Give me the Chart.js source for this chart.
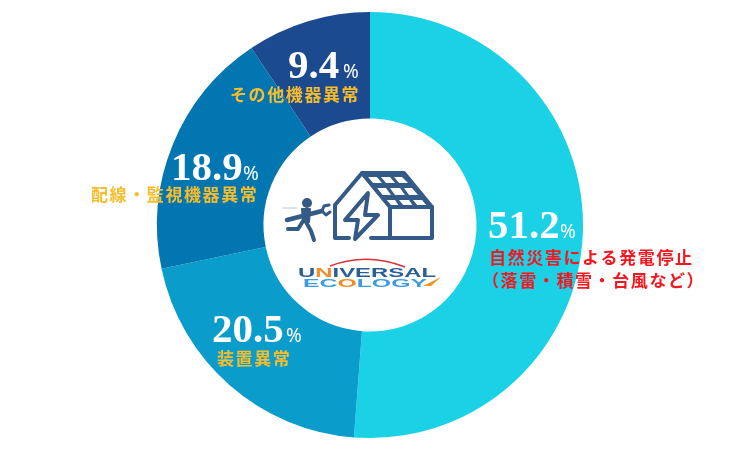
<!DOCTYPE html>
<html>
<head>
<meta charset="utf-8">
<style>
  html, body { margin: 0; padding: 0; background: #ffffff; }
  #wrap { position: relative; width: 740px; height: 450px; overflow: hidden; }
  #pie { position: absolute; left: 0; top: 0; }
  #logo { position: absolute; left: 0; top: 0; pointer-events: none; }
</style>
</head>
<body>
<div id="wrap">
  <canvas id="pie" width="740" height="450"></canvas>
  <svg id="logo" width="740" height="450" viewBox="0 0 740 450">
    <!-- house -->
    <path d="M362 173 L404 173 L432 207 L390 207 Z" fill="#345a87"/>
    <g fill="#ffffff">
      <path d="M368 177 L377 177 L382 183 L373 183 Z"/>
      <path d="M381 177 L390 177 L395 183 L386 183 Z"/>
      <path d="M394 177 L402 177 L408 183 L399 183 Z"/>
      <path d="M377 188 L386 188 L391 195 L382 195 Z"/>
      <path d="M390 188 L400 188 L405 195 L395 195 Z"/>
      <path d="M404 188 L412 188 L418 195 L409 195 Z"/>
      <path d="M386 200 L395 200 L399 206 L391 206 Z"/>
      <path d="M399 200 L409 200 L413 206 L404 206 Z"/>
      <path d="M413 200 L422 200 L427 206 L418 206 Z"/>
    </g>
    <g fill="none" stroke="#345a87" stroke-width="4" stroke-linejoin="round" stroke-linecap="round">
      <path d="M349 238 L335 238 L335 205 L362 173 L404 173 L432 207 L432 238 L371 238"/>
      <path d="M390 207 L432 207 M390 207 L390 238"/>
      <path d="M362 173 L390 207"/>
      <path d="M368 193 L345 220 L358 220 L355 239 L378 215 L365 215 Z"/>
    </g>
    <!-- worker with spanner -->
    <g fill="#345a87" stroke="#345a87" stroke-linecap="round" stroke-linejoin="round">
      <circle cx="307" cy="203" r="5" stroke="none"/>
      <path d="M302 209 L310 209 L309 222 L303 222 Z" stroke-width="2"/>
      <path d="M287 220 L322 211" stroke-width="4.5" fill="none"/>
      <path d="M322 211 L324 206 L329 205 M322 211 L326 215 L330 212" stroke-width="3" fill="none"/>
      <path d="M303 221 L298 229 L288 229" stroke-width="4" fill="none"/>
      <path d="M306 222 L311 231 L314 240" stroke-width="4" fill="none"/>
      <path d="M283 208 L297 208" stroke="#b9c6d4" stroke-width="1" fill="none"/>
    </g>
    <!-- company logo -->
    <path d="M330 266 Q367 252 405 267" fill="none" stroke="#d8323a" stroke-width="1.4"/>
    <path d="M423 286 L441 277 L431 286 Z" fill="#f4922a"/>
    <text x="298" y="277" textLength="138" lengthAdjust="spacingAndGlyphs" font-family="Liberation Sans" font-weight="bold" font-size="12" fill="#2b5d96">U<tspan fill="#f08c28">N</tspan>IVERSAL</text>
    <text x="303" y="287" textLength="124" lengthAdjust="spacingAndGlyphs" font-family="Liberation Sans" font-weight="bold" font-size="11" fill="#3d9be0">EC<tspan fill="#f08c28">O</tspan>LOGY</text>
  </svg>
</div>
<script src="https://cdn.jsdelivr.net/npm/chart.js@4"></script>
<script>
// Values
const categories = ["自然災害による発電停止", "装置異常", "配線・監視機器異常", "その他機器異常"];
const shares = [51.2, 20.5, 18.9, 9.4];
const sliceColors = ["#1bd1e6", "#0a9ccb", "#0276b1", "#1c4a8e"];

// Label placement: number baseline and the caption lines below it
const labelSpots = [
  { x: 488, y: 238, pctX: 560, lines: ["自然災害による発電停止", "（落雷・積雪・台風など）"], lineX: [489, 482], lineY: [264, 287], color: "#f5171f" },
  { x: 212, y: 342, pctX: 286, lines: ["装置異常"], lineX: [217], lineY: [365], color: "#f7bd2c" },
  { x: 171, y: 180, pctX: 243, lines: ["配線・監視機器異常"], lineX: [91], lineY: [201], color: "#f7bd2c" },
  { x: 288, y: 78, pctX: 343, lines: ["その他機器異常"], lineX: [230], lineY: [101], color: "#f7bd2c" }
];

// Draws numbers and captions over the ring
const sliceLabels = {
  id: "sliceLabels",
  afterDatasetsDraw(chart) {
    const ctx = chart.ctx;
    ctx.save();
    ctx.textAlign = "left";
    ctx.textBaseline = "alphabetic";
    labelSpots.forEach((spot, i) => {
      ctx.fillStyle = "#ffffff";
      ctx.letterSpacing = "0px";
      ctx.font = "bold 41px 'Liberation Serif'";
      ctx.fillText(shares[i].toFixed(1), spot.x, spot.y);
      ctx.font = "19px 'Noto Sans'";
      ctx.fillText("%", spot.pctX, spot.y);
      ctx.fillStyle = spot.color;
      ctx.font = "bold 17px 'Noto Sans CJK JP'";
      ctx.letterSpacing = "1.6px";
      spot.lines.forEach((line, j) => ctx.fillText(line, spot.lineX[j], spot.lineY[j]));
    });
    ctx.restore();
  }
};

new Chart(document.getElementById("pie"), {
  type: "doughnut",
  data: {
    labels: categories,
    datasets: [{
      data: shares,
      backgroundColor: sliceColors,
      borderWidth: 0
    }]
  },
  options: {
    responsive: false,
    animation: false,
    cutout: "50%",
    layout: { padding: { top: 12, bottom: 12 } },
    plugins: {
      legend: { display: false },
      tooltip: { enabled: false }
    }
  },
  plugins: [sliceLabels]
});
</script>
</body>
</html>
